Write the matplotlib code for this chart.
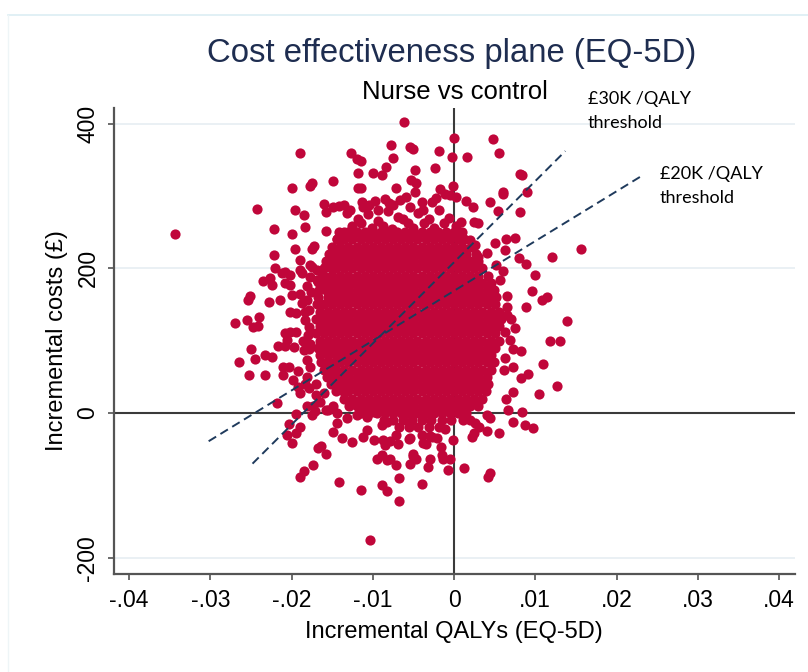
import matplotlib
matplotlib.use('Agg')
import matplotlib.pyplot as plt
from matplotlib.lines import Line2D

NARROW = ['Liberation Sans', 'DejaVu Sans']
CALIBRI_LIKE = ['Lato', 'DejaVu Sans']
DOT_COLOR = '#c0063a'

# bootstrap replicates: (incremental QALYs, incremental cost in GBP)
upper_pts = [
    (-0.0343, 247), (-0.0189, 360), (-0.0127, 359), (-0.0120, 351), (-0.0115, 348),
    (-0.0118, 332), (-0.0100, 332), (-0.0089, 329), (-0.0084, 340), (-0.0078, 371),
    (-0.0075, 353), (-0.0149, 321), (-0.0177, 314), (-0.0175, 318), (-0.0199, 311),
    (-0.0118, 311), (-0.0114, 311), (-0.0242, 282), (-0.0196, 280), (-0.0185, 273),
    (-0.0160, 289), (-0.0157, 278), (-0.0142, 286), (-0.0135, 288), (-0.0113, 291),
    (-0.0112, 285), (-0.0097, 293), (-0.0085, 296), (-0.0221, 254), (-0.0199, 247),
    (-0.0184, 257), (-0.0157, 251), (-0.0196, 227), (-0.0222, 219), (-0.0172, 231),
    (-0.0175, 227), (-0.0062, 402), (-0.0054, 368), (-0.0051, 365), (-0.0019, 362),
    (0.0000, 380), (-0.0003, 354), (0.0016, 354), (0.0048, 379), (0.0055, 360),
    (-0.0024, 338), (-0.0048, 336), (-0.0071, 311), (-0.0053, 322), (-0.0047, 318),
    (0.0081, 330), (0.0084, 329), (0.0060, 305), (0.0060, 302), (0.0090, 306),
    (0.0044, 291), (0.0054, 279), (0.0081, 278), (0.0015, 293), (0.0023, 285),
    (0.0024, 264), (0.0030, 263), (0.0008, 264), (-0.0001, 314), (-0.0017, 310),
    (-0.0011, 302), (-0.0027, 292), (-0.0022, 297), (-0.0005, 301), (0.0003, 299),
    (-0.0048, 306), (-0.0059, 299), (-0.0040, 292), (-0.0075, 287), (-0.0054, 285),
    (-0.0038, 281), (0.0050, 235), (0.0064, 241), (0.0075, 242), (0.0063, 225),
    (0.0121, 215), (0.0156, 226), (0.0020, 239), (0.0026, 232), (0.0040, 221),
    (0.0029, 215), (-0.0149, 285), (-0.0132, 276), (-0.0144, 241), (-0.0140, 225),
    (-0.0153, 216), (-0.0149, 202), (-0.0128, 280), (-0.0105, 288), (-0.0093, 281),
    (-0.0080, 290), (-0.0066, 294),
]

# ragged top of the dense part
top_fringe = [
    (-0.0126, 258), (-0.0118, 268), (-0.0106, 275), (-0.0093, 266), (-0.0081, 279),
    (-0.0069, 271), (-0.0057, 262), (-0.0044, 276), (-0.0031, 268), (-0.0019, 281),
    (-0.0006, 270), (0.0003, 258), (-0.0114, 262), (-0.0101, 255), (-0.0088, 258),
    (-0.0076, 254), (-0.0063, 268), (-0.0050, 255), (-0.0037, 262), (-0.0025, 256),
    (-0.0012, 262), (-0.0135, 250), (0.0010, 250),
]

left_pts = [
    (-0.0220, 200), (-0.0235, 183), (-0.0227, 186), (-0.0224, 177), (-0.0212, 193),
    (-0.0208, 195), (-0.0202, 191), (-0.0208, 179), (-0.0202, 177), (-0.0190, 211),
    (-0.0190, 198), (-0.0177, 205), (-0.0169, 184), (-0.0254, 156), (-0.0251, 162),
    (-0.0228, 153), (-0.0270, 124), (-0.0255, 129), (-0.0247, 119), (-0.0241, 120),
    (-0.0240, 132), (-0.0250, 88), (-0.0265, 71), (-0.0245, 75), (-0.0233, 80),
    (-0.0224, 77), (-0.0252, 52), (-0.0233, 52), (-0.0217, 93), (-0.0208, 92),
    (-0.0197, 91), (-0.0210, 64), (-0.0203, 63), (-0.0192, 58), (-0.0210, 53),
    (-0.0198, 46), (-0.0181, 50), (-0.0214, 156), (-0.0200, 163), (-0.0202, 140),
    (-0.0194, 138), (-0.0208, 110), (-0.0202, 112), (-0.0194, 112), (-0.0206, 101),
    (-0.0187, 193), (-0.0177, 188), (-0.0175, 202), (-0.0169, 198), (-0.0157, 205),
    (-0.0157, 188), (-0.0167, 181), (-0.0181, 175), (-0.0190, 165), (-0.0181, 156),
    (-0.0187, 152), (-0.0183, 129), (-0.0179, 119), (-0.0185, 87), (-0.0179, 89),
    (-0.0181, 73), (-0.0177, 64), (-0.0218, 14), (-0.0190, 27), (-0.0183, 140),
    (-0.0186, 100), (-0.0180, 108), (-0.0184, 40), (-0.0178, 35), (-0.0170, 25),
    (-0.0165, 15), (-0.0174, 9), (-0.0157, 4), (-0.0149, 9), (-0.0160, 28),
    (-0.0170, 40), (-0.0192, 36), (-0.0176, 167), (-0.0178, 143), (-0.0177, 96),
]

lower_pts = [
    (-0.0195, -2), (-0.0203, -15), (-0.0189, -19), (-0.0205, -30), (-0.0194, -28),
    (-0.0200, -42), (-0.0167, -48), (-0.0164, -45), (-0.0157, -56), (-0.0173, -72),
    (-0.0185, -80), (-0.0189, -88), (-0.0141, -96), (-0.0114, -107), (-0.0089, -100),
    (-0.0082, -108), (-0.0104, -176), (-0.0149, -26), (-0.0138, -35), (-0.0125, -40),
    (-0.0112, -33), (-0.0107, -23), (-0.0099, -37), (-0.0087, -37), (-0.0085, -44),
    (-0.0095, -63), (-0.0089, -58), (-0.0083, -65), (-0.0181, 9), (-0.0171, 3),
    (-0.0175, -3), (-0.0155, 4), (-0.0144, 0), (-0.0144, -14), (-0.0132, -7),
    (-0.0120, -3), (-0.0107, -5), (-0.0099, 2), (-0.0089, -17), (-0.0083, -12),
    (-0.0068, -121), (-0.0068, -90), (-0.0071, -72), (-0.0054, -70), (-0.0050, -59),
    (-0.0040, -98), (-0.0032, -74), (-0.0030, -63), (-0.0007, -79), (0.0012, -76),
    (0.0044, -83), (0.0042, -88), (-0.0001, -38), (-0.0015, -58), (-0.0013, -63),
    (-0.0005, -63), (-0.0016, -47), (-0.0030, -32), (-0.0038, -42), (-0.0055, -36),
    (-0.0050, -56), (-0.0047, -63), (-0.0069, -43), (-0.0079, -39), (-0.0071, -30),
    (-0.0079, -63), (-0.0040, -31), (-0.0034, -43), (-0.0027, -33), (-0.0021, -35),
    (-0.0011, -22), (-0.0054, -35), (0.0007, 0), (0.0011, -10), (0.0020, -10),
    (0.0026, -14), (0.0040, -3), (0.0044, -7), (0.0066, 4), (0.0084, 2),
    (0.0072, -12), (0.0087, -17), (0.0097, -21), (0.0055, -27), (0.0040, -25),
    (0.0031, -20), (0.0022, -33), (0.0025, -28), (0.0064, 20), (0.0073, 29),
]

right_pts = [
    (0.0100, 191), (0.0096, 168), (0.0108, 156), (0.0115, 160), (0.0089, 146),
    (0.0139, 127), (0.0118, 99), (0.0131, 99), (0.0082, 86), (0.0110, 68),
    (0.0127, 37), (0.0105, 26), (0.0091, 54), (0.0082, 49), (0.0069, 101),
    (0.0063, 76), (0.0073, 64), (0.0061, 59), (0.0065, 161), (0.0065, 147),
    (0.0065, 135), (0.0057, 184), (0.0044, 175), (0.0088, 206), (0.0080, 214),
    (0.0044, 83), (0.0075, 118), (0.0070, 130), (0.0072, 88), (0.0063, 112),
    (0.0060, 196), (0.0052, 204),
]

# the dense middle of the cloud, read row by row (cost level, QALY values)
core_rows = [
    (250, [-.0141, -.0130, -.0120, -.0110, -.0100, -.0090, -.0080, -.0070, -.0060, -.0050,
           -.0040, -.0030, -.0020, -.0010, .0000]),
    (240, [-.0144, -.0135, -.0125, -.0115, -.0105, -.0095, -.0085, -.0075, -.0065, -.0055,
           -.0045, -.0035, -.0025, -.0015, -.0005, .0005, .0012]),
    (230, [-.0150, -.0140, -.0130, -.0120, -.0110, -.0100, -.0090, -.0080, -.0070, -.0060,
           -.0050, -.0040, -.0030, -.0020, -.0010, .0000, .0010, .0021]),
    (220, [-.0154, -.0145, -.0135, -.0125, -.0115, -.0105, -.0095, -.0085, -.0075, -.0065,
           -.0055, -.0045, -.0035, -.0025, -.0015, -.0005, .0005, .0015, .0027]),
    (210, [-.0157, -.0147, -.0138, -.0130, -.0120, -.0110, -.0100, -.0090, -.0080, -.0070,
           -.0060, -.0050, -.0040, -.0030, -.0020, -.0010, .0000, .0010, .0020, .0030]),
    (200, [-.0160, -.0152, -.0145, -.0135, -.0125, -.0115, -.0105, -.0095, -.0085, -.0075,
           -.0065, -.0055, -.0045, -.0035, -.0025, -.0015, -.0005, .0005, .0015, .0025, .0035]),
    (190, [-.0162, -.0150, -.0140, -.0130, -.0120, -.0110, -.0100, -.0090, -.0080, -.0070,
           -.0060, -.0050, -.0040, -.0030, -.0020, -.0010, .0000, .0010, .0020, .0030, .0042]),
    (180, [-.0165, -.0155, -.0145, -.0135, -.0125, -.0115, -.0105, -.0095, -.0085, -.0075,
           -.0065, -.0055, -.0045, -.0035, -.0025, -.0015, -.0005, .0005, .0015, .0025, .0035,
           .0045]),
    (170, [-.0166, -.0158, -.0150, -.0140, -.0130, -.0120, -.0110, -.0100, -.0090, -.0080,
           -.0070, -.0060, -.0050, -.0040, -.0030, -.0020, -.0010, .0000, .0010, .0020, .0030,
           .0040, .0049]),
    (160, [-.0167, -.0155, -.0145, -.0135, -.0125, -.0115, -.0105, -.0095, -.0085, -.0075,
           -.0065, -.0055, -.0045, -.0035, -.0025, -.0015, -.0005, .0005, .0015, .0025, .0035,
           .0045, .0052]),
    (150, [-.0169, -.0160, -.0150, -.0140, -.0130, -.0120, -.0110, -.0100, -.0090, -.0080,
           -.0070, -.0060, -.0050, -.0040, -.0030, -.0020, -.0010, .0000, .0010, .0020, .0030,
           .0040, .0050]),
    (140, [-.0165, -.0155, -.0145, -.0135, -.0125, -.0115, -.0105, -.0095, -.0085, -.0075,
           -.0065, -.0055, -.0045, -.0035, -.0025, -.0015, -.0005, .0005, .0015, .0025, .0035,
           .0045, .0055]),
    (130, [-.0170, -.0160, -.0150, -.0140, -.0130, -.0120, -.0110, -.0100, -.0090, -.0080,
           -.0070, -.0060, -.0050, -.0040, -.0030, -.0020, -.0010, .0000, .0010, .0020, .0030,
           .0040, .0050, .0058]),
    (120, [-.0165, -.0155, -.0145, -.0135, -.0125, -.0115, -.0105, -.0095, -.0085, -.0075,
           -.0065, -.0055, -.0045, -.0035, -.0025, -.0015, -.0005, .0005, .0015, .0025, .0035,
           .0045, .0055]),
    (110, [-.0170, -.0160, -.0150, -.0140, -.0130, -.0120, -.0110, -.0100, -.0090, -.0080,
           -.0070, -.0060, -.0050, -.0040, -.0030, -.0020, -.0010, .0000, .0010, .0020, .0030,
           .0040, .0050]),
    (100, [-.0165, -.0155, -.0145, -.0135, -.0125, -.0115, -.0105, -.0095, -.0085, -.0075,
           -.0065, -.0055, -.0045, -.0035, -.0025, -.0015, -.0005, .0005, .0015, .0025, .0035,
           .0045, .0055]),
    (90, [-.0167, -.0160, -.0150, -.0140, -.0130, -.0120, -.0110, -.0100, -.0090, -.0080,
          -.0070, -.0060, -.0050, -.0040, -.0030, -.0020, -.0010, .0000, .0010, .0020, .0030,
          .0040, .0050]),
    (80, [-.0165, -.0155, -.0145, -.0135, -.0125, -.0115, -.0105, -.0095, -.0085, -.0075,
          -.0065, -.0055, -.0045, -.0035, -.0025, -.0015, -.0005, .0005, .0015, .0025, .0035,
          .0045]),
    (70, [-.0164, -.0155, -.0147, -.0140, -.0130, -.0120, -.0110, -.0100, -.0090, -.0080,
          -.0070, -.0060, -.0050, -.0040, -.0030, -.0020, -.0010, .0000, .0010, .0020, .0030,
          .0040, .0049]),
    (60, [-.0160, -.0152, -.0145, -.0135, -.0125, -.0115, -.0105, -.0095, -.0085, -.0075,
          -.0065, -.0055, -.0045, -.0035, -.0025, -.0015, -.0005, .0005, .0015, .0025, .0035,
          .0045]),
    (50, [-.0156, -.0147, -.0140, -.0130, -.0120, -.0110, -.0100, -.0090, -.0080, -.0070,
          -.0060, -.0050, -.0040, -.0030, -.0020, -.0010, .0000, .0010, .0020, .0030, .0040]),
    (40, [-.0151, -.0142, -.0135, -.0125, -.0115, -.0105, -.0095, -.0085, -.0075, -.0065,
          -.0055, -.0045, -.0035, -.0025, -.0015, -.0005, .0005, .0015, .0025, .0035, .0042]),
    (30, [-.0145, -.0137, -.0130, -.0120, -.0110, -.0100, -.0090, -.0080, -.0070, -.0060,
          -.0050, -.0040, -.0030, -.0020, -.0010, .0000, .0010, .0020, .0030, .0039]),
    (20, [-.0135, -.0125, -.0115, -.0105, -.0095, -.0085, -.0075, -.0065, -.0055, -.0045,
          -.0035, -.0025, -.0015, -.0005, .0005, .0015, .0025, .0034]),
    (10, [-.0129, -.0120, -.0110, -.0100, -.0090, -.0080, -.0070, -.0060, -.0050, -.0040,
          -.0030, -.0020, -.0010, .0000, .0010, .0020, .0029]),
    (0, [-.0115, -.0105, -.0095, -.0085, -.0075, -.0065, -.0055, -.0045, -.0035, -.0025,
         -.0015, -.0005, .0005, .0015]),
    (-10, [-.0086, -.0075, -.0063, -.0052, -.0040, -.0028, -.0015, -.0004]),
    (-20, [-.0068, -.0056, -.0044, -.0031, -.0018]),
]

# hand-drawn threshold lines (two end points each)
thr30_qaly = [-0.0248, 0.0137]
thr30_cost = [-70, 362]
thr20_qaly = [-0.0302, 0.0230]
thr20_cost = [-39, 327]

x_ticks = [-0.04, -0.03, -0.02, -0.01, 0, 0.01, 0.02, 0.03, 0.04]
x_tick_labels = ['-.04', '-.03', '-.02', '-.01', '0', '.01', '.02', '.03', '.04']
y_ticks = [-200, 0, 200, 400]
y_tick_labels = ['-200', '0', '200', '400']

outer = upper_pts + top_fringe + left_pts + lower_pts + right_pts
qaly = [p[0] for p in outer] + [x for c, xs in core_rows for x in xs]
cost = [p[1] for p in outer] + [c for c, xs in core_rows for _ in xs]

fig = plt.figure(figsize=(8.08, 6.72), dpi=100)
ax = fig.add_axes([114 / 808, 1 - 574 / 672, 681 / 808, 466 / 672])

ax.set_xlim(-0.04185, 0.04197)
ax.set_ylim(-222.5, 421.5)

ax.set_yticks(y_ticks)
ax.set_yticklabels(y_tick_labels, rotation=90, va='center', family=NARROW, fontsize=16.5)
ax.set_xticks(x_ticks)
ax.set_xticklabels(x_tick_labels, family=NARROW, fontsize=16.5)
ax.tick_params(direction='out', length=4.5, width=1.1, color='#444444', pad=6)

for side in ['top', 'right']:
    ax.spines[side].set_visible(False)
for side in ['left', 'bottom']:
    ax.spines[side].set_color('#555555')
    ax.spines[side].set_linewidth(1.6)

for v in [400, 200, -200]:
    ax.axhline(v, color='#e6eef2', lw=1.2, zorder=0)
ax.axhline(0, color='#3a3a3a', lw=1.5, zorder=1)
ax.axvline(0, color='#3a3a3a', lw=1.5, zorder=1)

ax.scatter(qaly, cost, s=54, c=DOT_COLOR, linewidths=0, zorder=3)

ax.plot(thr30_qaly, thr30_cost, color='#1f3a5c', lw=1.4, dashes=(4.5, 2.6), zorder=4)
ax.plot(thr20_qaly, thr20_cost, color='#1f3a5c', lw=1.4, dashes=(4.5, 2.6), zorder=4)

fig.text(454 / 808, 1 - 632 / 672, 'Incremental QALYs (EQ-5D)', ha='center', va='center',
         family=NARROW, fontsize=17)
fig.text(57 / 808, 1 - 341 / 672, 'Incremental costs (£)', ha='center', va='center',
         rotation=90, family=NARROW, fontsize=17)

fig.text(452 / 808, 1 - 62 / 672, 'Cost effectiveness plane (EQ-5D)', ha='center',
         va='baseline', family=NARROW, fontsize=23.7, color='#1e2d50')
fig.text(455 / 808, 1 - 99 / 672, 'Nurse vs control', ha='center', va='baseline',
         family=NARROW, fontsize=18.5, color='black')

fig.text(588 / 808, 1 - 104 / 672, '£30K /QALY', va='baseline', family=CALIBRI_LIKE,
         fontsize=13, color='black')
fig.text(588 / 808, 1 - 128 / 672, 'threshold', va='baseline', family=CALIBRI_LIKE,
         fontsize=13, color='black')
fig.text(660 / 808, 1 - 179 / 672, '£20K /QALY', va='baseline', family=CALIBRI_LIKE,
         fontsize=13, color='black')
fig.text(660 / 808, 1 - 203 / 672, 'threshold', va='baseline', family=CALIBRI_LIKE,
         fontsize=13, color='black')

# faint slide frame around the chart
fig.add_artist(Line2D([8 / 808, 1], [1 - 15 / 672, 1 - 15 / 672], color='#dceef3', lw=1.2))
fig.add_artist(Line2D([8 / 808, 8 / 808], [0, 1 - 15 / 672], color='#eef5f7', lw=1.0))

fig.savefig('out.png', dpi=100)
